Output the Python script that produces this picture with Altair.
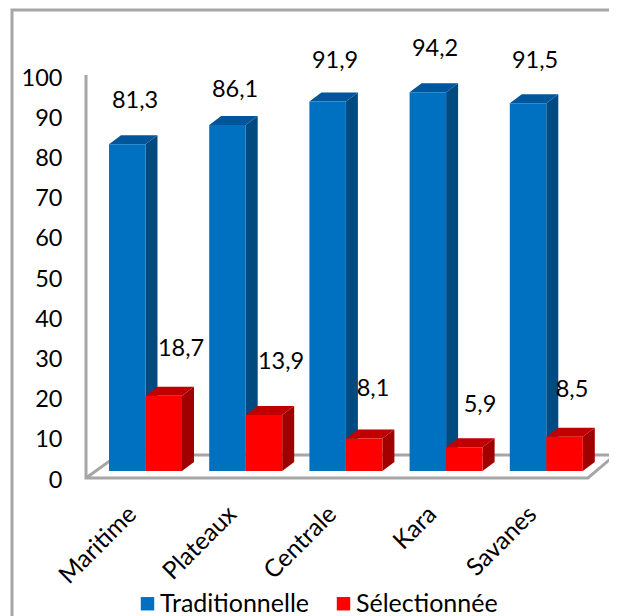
import altair as alt
import pandas as pd

# --- data ---
regions = ["Maritime", "Plateaux", "Centrale", "Kara", "Savanes"]
traditionnelle = [81.3, 86.1, 91.9, 94.2, 91.5]
selectionnee = [18.7, 13.9, 8.1, 5.9, 8.5]
series_names = ["Traditionnelle", "Sélectionnée"]
y_ticks = [0, 10, 20, 30, 40, 50, 60, 70, 80, 90, 100]

# --- layout (image pixels, converted to scale units below) ---
PAD_L = 54
W, H = 601 - PAD_L, 608
VIEW_X0 = 8 + PAD_L
STEP = 100.2
ORIGIN_X = 145.5
ZERO_Y = 478
PPU = 4.02
FONT = "Lato"
FS = 23.5
GRAY = "#A6A6A6"


def ux(p):
    return (p - ORIGIN_X) / STEP


def vy(p):
    return (ZERO_Y - p) / PPU


X_DOMAIN = [ux(VIEW_X0), ux(VIEW_X0 + W)]
Y_DOMAIN = [vy(8 + H), vy(8)]
x_scale = alt.Scale(domain=X_DOMAIN, range=[0, W], nice=False, zero=False)
y_scale = alt.Scale(domain=Y_DOMAIN, range=[H, 0], nice=False, zero=False)

BAR_W = 36.5 / STEP
DX = 12 / STEP
DY = 9 / PPU
BASE = 7 / PPU

colors = {
    series_names[0]: dict(front="#0070C0", top="#00559B", side="#004A80"),
    series_names[1]: dict(front="#FF0000", top="#C00000", side="#A00000"),
}

fronts, faces = [], []
for s, (name, vals) in enumerate(zip(series_names, [traditionnelle, selectionnee])):
    for i, v in enumerate(vals):
        l = i + (s - 1) * BAR_W
        r = l + BAR_W
        t = v + BASE
        fronts.append(dict(serie=name, region=regions[i], l=l, r=r, b=BASE, t=t))
        sid = f"{s}-{i}-side"
        for xx, lo, hi in [(r, BASE, t), (r + DX, BASE + DY, t + DY)]:
            faces.append(dict(id=sid, x=xx, lo=lo, hi=hi, fill=colors[name]["side"]))
        tid = f"{s}-{i}-top"
        for xx, lo, hi in [
            (l, t, t),
            (l + DX, t, t + DY),
            (r, t, t + DY),
            (r + DX, t + DY, t + DY),
        ]:
            faces.append(dict(id=tid, x=xx, lo=lo, hi=hi, fill=colors[name]["top"]))

fronts = pd.DataFrame(fronts)
faces = pd.DataFrame(faces)

# value-axis line and floor outline, as one path
floor_px = [(86, 75), (86, 478), (588, 478), (615, 455), (118, 455), (86, 478)]
floor = pd.DataFrame(
    [dict(o=k, x=ux(a), y=vy(b)) for k, (a, b) in enumerate(floor_px)]
)
frame = pd.DataFrame(
    [
        dict(o=0, x=ux(12), y=Y_DOMAIN[0]),
        dict(o=1, x=ux(12), y=vy(10)),
        dict(o=2, x=X_DOMAIN[1], y=vy(10)),
    ]
)

# value labels: hand-placed in the reference
label_px = [
    (135, 101), (235, 90), (335, 61), (435, 49), (535, 61),
    (181, 349), (281, 362), (373, 389), (480, 405), (572, 390),
]
all_vals = traditionnelle + selectionnee
value_labels = pd.DataFrame(
    [
        dict(x=ux(a), y=vy(b), txt=str(v).replace(".", ","))
        for (a, b), v in zip(label_px, all_vals)
    ]
)
cat_labels = pd.DataFrame(
    [dict(x=ux(133 + 100 * i), y=vy(511), txt=r) for i, r in enumerate(regions)]
)

y_axis = alt.Axis(
    values=y_ticks,
    orient="left",
    domain=False,
    ticks=False,
    grid=False,
    title=None,
    labelFont=FONT,
    labelFontSize=FS,
    labelColor="#000000",
    labelPadding=0,
    labelOffset=2,
    labelOverlap=False,
    labelFlush=False,
)
X = alt.X("x:Q", scale=x_scale, axis=None)
Y = alt.Y("y:Q", scale=y_scale, axis=y_axis)


def outline(df, width=3):
    return (
        alt.Chart(df)
        .mark_line(color=GRAY, strokeWidth=width, clip=False)
        .encode(x=X, y=Y, order="o:Q")
    )


faces_layer = (
    alt.Chart(faces)
    .mark_area(opacity=1, interpolate="linear")
    .encode(
        x=alt.X("x:Q", scale=x_scale, axis=None),
        y=alt.Y("lo:Q", scale=y_scale, axis=y_axis),
        y2="hi:Q",
        detail=alt.Detail("id:N"),
        color=alt.Color("fill:N", scale=None),
    )
)

front_layer = (
    alt.Chart(fronts)
    .mark_bar(opacity=1, strokeWidth=0)
    .encode(
        x=alt.X("l:Q", scale=x_scale, axis=None),
        x2="r:Q",
        y=alt.Y("t:Q", scale=y_scale, axis=y_axis),
        y2="b:Q",
        color=alt.Color(
            "serie:N",
            scale=alt.Scale(
                domain=series_names,
                range=[colors[n]["front"] for n in series_names],
            ),
            sort=series_names,
            legend=alt.Legend(
                orient="none",
                legendX=73,
                legendY=583,
                direction="horizontal",
                title=None,
                symbolType="square",
                symbolSize=180,
                symbolStrokeWidth=0,
                symbolOpacity=1,
                labelFont=FONT,
                labelFontSize=25,
                labelColor="#000000",
                labelOffset=0,
                columnPadding=21,
                padding=0,
            ),
        ),
    )
)

value_text = (
    alt.Chart(value_labels)
    .mark_text(font=FONT, fontSize=FS, color="#000000", align="center", baseline="middle")
    .encode(x=X, y=Y, text="txt:N")
)
cat_text = (
    alt.Chart(cat_labels)
    .mark_text(font=FONT, fontSize=24.5, color="#000000", align="right", baseline="middle", angle=315)
    .encode(x=X, y=Y, text="txt:N")
)

chart = (
    alt.layer(
        outline(frame),
        outline(floor),
        faces_layer,
        front_layer,
        value_text,
        cat_text,
    )
    .resolve_scale(color="independent")
    .properties(
        width=W,
        height=H,
        padding={"left": PAD_L, "top": 0, "right": 0, "bottom": 0},
        autosize=alt.AutoSizeParams(type="none"),
        background="#FFFFFF",
    )
    .configure_view(stroke=None)
)

chart.save("out.html", embed_options={"renderer": "svg", "actions": False})
